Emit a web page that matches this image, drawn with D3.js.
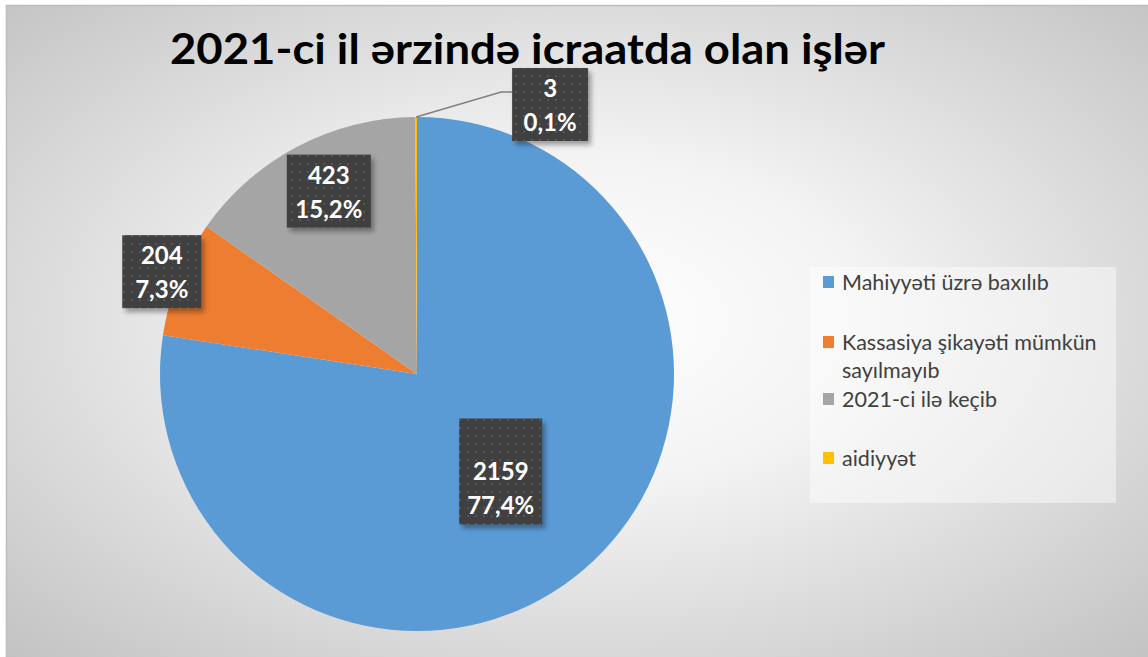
<!DOCTYPE html>
<html><head><meta charset="utf-8">
<script src="https://cdn.jsdelivr.net/npm/d3@7"></script>
<style>html,body{margin:0;padding:0;background:#fff;}svg{display:block;}</style>
</head><body>
<svg id="chart" width="1148" height="657"></svg>
<script>
const categories = ["Mahiyyəti üzrə baxılıb", "Kassasiya şikayəti mümkün sayılmayıb", "2021-ci ilə keçib", "aidiyyət"];
const legendLines = [["Mahiyyəti üzrə baxılıb"], ["Kassasiya şikayəti mümkün", "sayılmayıb"], ["2021-ci ilə keçib"], ["aidiyyət"]];
const values = [2159, 204, 423, 3];
const percentLabels = ["77,4%", "7,3%", "15,2%", "0,1%"];
const colors = ["#5B9BD5", "#ED7D31", "#A5A5A5", "#FFC000"];
const title = "2021-ci il ərzində icraatda olan işlər";

const svg = d3.select("#chart");
const W = 1148, H = 657;
const defs = svg.append("defs");

const grad = defs.append("radialGradient").attr("id", "bg")
  .attr("cx", 0.5).attr("cy", 0.48).attr("r", 0.72);
grad.append("stop").attr("offset", 0).attr("stop-color", "#ffffff");
grad.append("stop").attr("offset", 0.35).attr("stop-color", "#f3f3f3");
grad.append("stop").attr("offset", 1).attr("stop-color", "#c2c2c2");

const pat = defs.append("pattern").attr("id", "dots").attr("patternUnits", "userSpaceOnUse")
  .attr("width", 8).attr("height", 8);
pat.append("rect").attr("width", 8).attr("height", 8).attr("fill", "#3f3f3f");
pat.append("rect").attr("x", 3).attr("y", 3).attr("width", 2).attr("height", 2).attr("fill", "#555555");

const sh = defs.append("filter").attr("id", "shadow").attr("x", "-20%").attr("y", "-20%").attr("width", "150%").attr("height", "150%");
sh.append("feDropShadow").attr("dx", 3).attr("dy", 4).attr("stdDeviation", 2.5)
  .attr("flood-color", "#000").attr("flood-opacity", 0.35);

// chart area
svg.append("rect").attr("x", 6.5).attr("y", 5.5).attr("width", W).attr("height", H)
  .attr("fill", "url(#bg)").attr("stroke", "#bdbdbd").attr("stroke-width", 1.5);

// title
svg.append("text").attr("x", 527.5).attr("y", 64).attr("text-anchor", "middle")
  .attr("font-family", "Lato, 'Open Sans', sans-serif").attr("font-weight", 700)
  .attr("font-size", 42).attr("fill", "#000")
  .attr("textLength", 715).attr("lengthAdjust", "spacingAndGlyphs")
  .text(title);

// pie
const cx = 417, cy = 374, R = 257;
const pie = d3.pie().sort(null).value(d => d)(values);
const arc = d3.arc().innerRadius(0).outerRadius(R);
const g = svg.append("g").attr("transform", `translate(${cx},${cy})`);
g.selectAll("path").data(pie).join("path")
  .attr("d", arc).attr("fill", (d, i) => colors[i])
  .attr("stroke", "none");

// labels: radial distance factor and angle tweak for placement (layout)
const labelRadius = [0.5, 1.07, 0.79, null];
const labelAngleShift = [0, 0, 0.034, 0];
const labelG = svg.append("g");
const fontLbl = "Lato, 'Open Sans', sans-serif";

function drawLabel(i, cxBox, topY, extraTop, w) {
  const h = 73 + extraTop;
  labelG.append("rect").attr("x", cxBox - w / 2).attr("y", topY).attr("width", w).attr("height", h)
    .attr("fill", "url(#dots)").attr("filter", "url(#shadow)");
  const t = labelG.append("text").attr("text-anchor", "middle").attr("font-family", fontLbl)
    .attr("font-weight", 700).attr("font-size", 24).attr("fill", "#ffffff");
  t.append("tspan").attr("x", cxBox).attr("y", topY + extraTop + 29).text(values[i]);
  t.append("tspan").attr("x", cxBox).attr("y", topY + extraTop + 63).text(percentLabels[i]);
}

const boxW = [83, 79, 84, 76];
const extra = [33, 0, 0, 0];
pie.forEach((d, i) => {
  const mid = (d.startAngle + d.endAngle) / 2 + labelAngleShift[i];
  if (labelRadius[i] != null) {
    const r = R * labelRadius[i];
    const x = cx + Math.sin(mid) * r;
    const y = cy - Math.cos(mid) * r;
    const h = 73 + extra[i];
    drawLabel(i, x, y - h / 2, extra[i], boxW[i]);
  } else {
    const ox = cx + Math.sin(mid) * R;
    const oy = cy - Math.cos(mid) * R;
    const ex = ox + 85, ey = oy - 25;
    labelG.append("polyline")
      .attr("points", `${ox},${oy} ${ex},${ey} ${ex + 11},${ey}`)
      .attr("fill", "none").attr("stroke", "#808080").attr("stroke-width", 1.5);
    drawLabel(i, ex + 11 + boxW[i] / 2, ey - 24, 0, boxW[i]);
  }
});

// legend
const lg = svg.append("g");
lg.append("rect").attr("x", 810).attr("y", 267).attr("width", 306).attr("height", 236)
  .attr("fill", "#ffffff").attr("fill-opacity", 0.45);
const markerY = [282, 342, 399, 458];
categories.forEach((c, i) => {
  lg.append("rect").attr("x", 823).attr("y", markerY[i] - 6).attr("width", 11).attr("height", 12)
    .attr("fill", colors[i]);
  const t = lg.append("text").attr("font-family", fontLbl).attr("font-size", 21.5).attr("fill", "#404040");
  legendLines[i].forEach((ln, j) => {
    t.append("tspan").attr("x", 842).attr("y", markerY[i] + 8 + j * 28).text(ln);
  });
});
</script>
</body></html>
